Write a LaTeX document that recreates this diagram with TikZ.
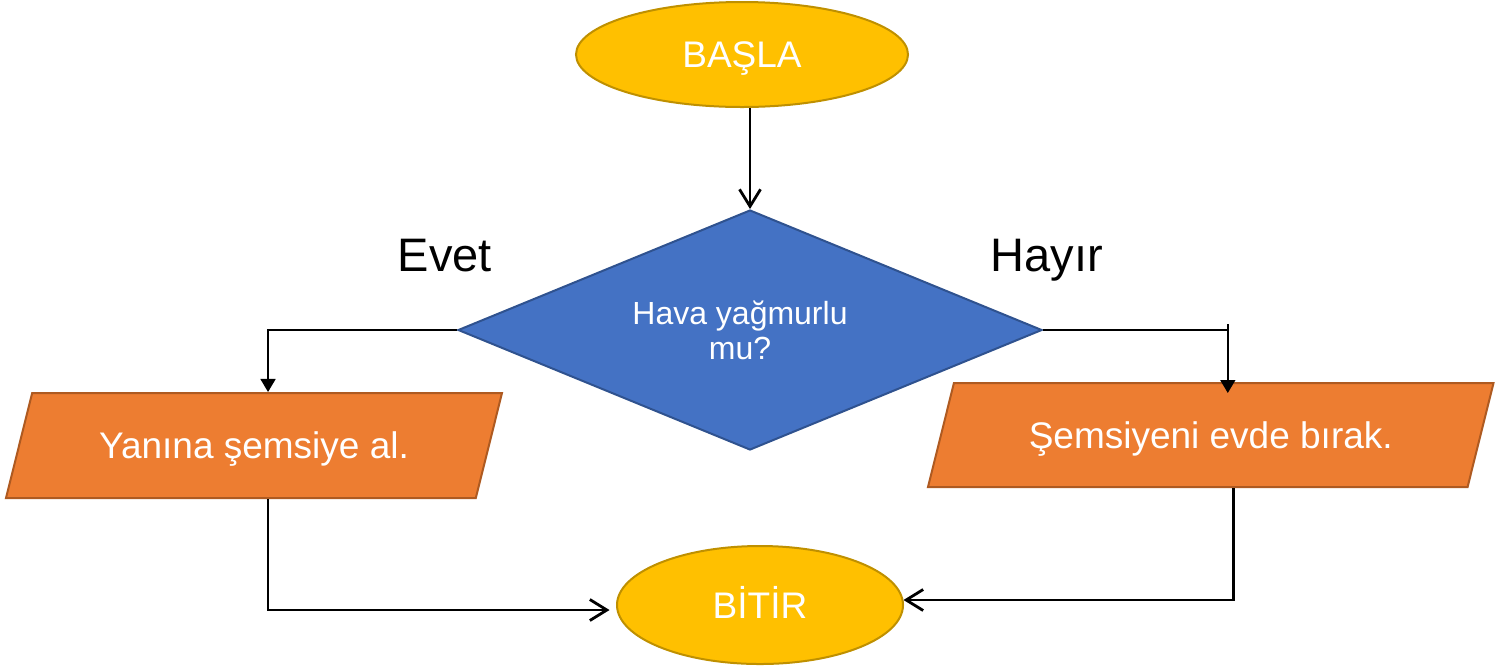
\documentclass[tikz,border=0pt]{standalone}
\usepackage{fontspec}
\setmainfont{Liberation Sans}
\usetikzlibrary{shapes.geometric,arrows.meta,calc}
\definecolor{termfill}{HTML}{FFC000}
\definecolor{termline}{HTML}{BF9000}
\definecolor{decfill}{HTML}{4472C4}
\definecolor{decline}{HTML}{2F528F}
\definecolor{iofill}{HTML}{ED7D31}
\definecolor{ioline}{HTML}{AE5A21}
\tikzset{
  terminal/.style={ellipse, draw=termline, line width=1pt, fill=termfill,
    inner sep=0pt, text=white, font=\fontsize{18.5pt}{22pt}\selectfont,
    text height=13.2pt, text depth=0pt},
  decision/.style={diamond, aspect=2.43, draw=decline, line width=1pt, fill=decfill,
    inner sep=0pt},
  dectext/.style={text=white, align=center, inner sep=0pt,
    font=\fontsize{16pt}{17.5pt}\selectfont},
  iobox/.style={trapezium, trapezium left angle=76, trapezium right angle=104,
    trapezium stretches body=true, draw=ioline, line width=1pt, fill=iofill,
    inner xsep=0pt, text=white, font=\fontsize{18.5pt}{22pt}\selectfont,
    text height=13.2pt, text depth=0pt},
  branch/.style={font=\fontsize{23.5pt}{28pt}\selectfont, anchor=base, inner sep=0pt},
  flow/.style={draw=black, line width=1.4pt, -{Straight Barb[length=8.5pt,width=10.5pt]}},
  sideflow/.style={draw=black, line width=0.8pt, -{Triangle[length=6.5pt,width=7.5pt]}},
  sideline/.style={draw=black, line width=0.8pt}
}
\begin{document}
\begin{tikzpicture}[x=0.5pt, y=-0.5pt]
  \useasboundingbox (0,0) rectangle (1502,671);

  % shapes
  \node[terminal, minimum width=166pt, minimum height=52.5pt] (start) at (742,54.5) {BAŞLA};
  \node[decision, minimum width=292pt, minimum height=120pt] (dec) at (750,330) {};
  \node[dectext] (q) at (740,330) {Hava yağmurlu\\mu?};
  \node[iobox, inner ysep=19.65pt, minimum width=248pt] (yes) at (254,445.5) {Yanına şemsiye al.};
  \node[iobox, inner ysep=19.4pt, minimum width=282.75pt] (no) at (1210.75,435) {Şemsiyeni evde bırak.};
  \node[terminal, minimum width=143pt, minimum height=59pt] (end) at (760,605) {BİTİR};

  % branch labels
  \node[branch] (evet) at (445,271) {Evet};
  \node[branch] (hayir) at (1047,271) {Hayır};

  % drop points of the branch connectors
  \coordinate (yesin)  at ([xshift=7pt]yes.north);
  \coordinate (yesout) at ([xshift=8pt]yes.south);
  \coordinate (noin)   at ([xshift=8.5pt]no.north);
  \coordinate (noout)  at ([xshift=10.5pt]no.south);

  % connectors
  \draw[flow] (start.south -| dec.north) -- (dec.north);
  \draw[sideflow] (dec.west) -| (yesin);
  \draw[sideline] (dec.east) -- (dec.east -| noin);
  \draw[sideflow] ([yshift=3pt]dec.east -| noin) -- ([yshift=-5.5pt]noin);
  \draw[flow] (yesin |- yesout) |- ([xshift=-3.5pt]end.182);
  \draw[flow] (noout -| noin) ++(3pt,0) |- (end.2);
\end{tikzpicture}
\end{document}
